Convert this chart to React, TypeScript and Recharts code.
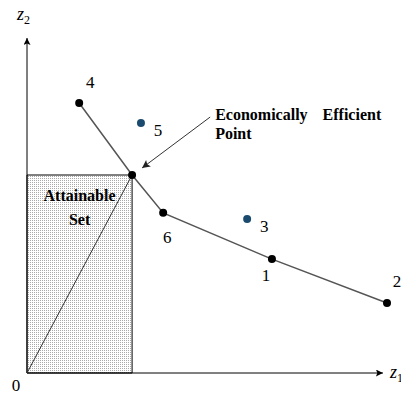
import { ScatterChart, Scatter, XAxis, YAxis, ReferenceArea } from 'recharts'

const FONT = '"Liberation Serif", "Times New Roman", serif'

// efficient frontier, in order: 4 -> E -> 6 -> 1 -> 2
const frontierNames = ['4', 'E', '6', '1', '2']
const frontierX = [14.1, 28.4, 36.8, 66.2, 97.3]
const frontierY = [80.6, 59.1, 47.8, 34.0, 20.9]

// points off the frontier
const otherNames = ['5', '3']
const otherX = [30.8, 59.5]
const otherY = [74.6, 46.0]

const axisMax = { x: 96.2, y: 100 }
const arrowStart = { x: 49.5, y: 76.4 }
const arrowEnd = { x: 31.1, y: 61.2 }

const frontier = frontierNames.map((name, i) => ({ name, x: frontierX[i], y: frontierY[i] }))
const others = otherNames.map((name, i) => ({ name, x: otherX[i], y: otherY[i] }))
const eff = frontier[1]

const origin = { name: '0', x: 0, y: 0 }
const xAxisData = [origin, { name: 'z1', x: axisMax.x, y: 0 }]
const yAxisData = [{ name: '', x: 0, y: 0 }, { name: 'z2', x: 0, y: axisMax.y }]
const rayData = [{ name: '', x: 0, y: 0 }, { ...eff, name: '' }]
const arrowData = [{ name: 'note', ...arrowStart }, { name: '', ...arrowEnd }]

// label offsets (px) from each point
const labelOffset: Record<string, [number, number]> = {
  '4': [11, -15],
  '5': [17, 13],
  '6': [4, 30],
  '3': [17, 13],
  '1': [-6, 22],
  '2': [10, -16],
  '0': [-11, 18],
}

const txt = { fontFamily: FONT }

const dotShape = (color: string) => (p: any) => {
  const off = labelOffset[p.payload?.name]
  return (
    <g>
      <circle cx={p.cx} cy={p.cy} r={4} fill={color} />
      {off && (
        <text x={p.cx + off[0]} y={p.cy + off[1]} textAnchor="middle" fontSize={17} style={txt} fill="#000">
          {p.payload.name}
        </text>
      )}
    </g>
  )
}

const axisShape = (p: any) => {
  const name = p.payload?.name
  if (name === '0') {
    const off = labelOffset['0']
    return (
      <text x={p.cx + off[0]} y={p.cy + off[1]} textAnchor="middle" fontSize={17} style={txt} fill="#000">0</text>
    )
  }
  if (name === 'z1') {
    return (
      <text x={p.cx + 7} y={p.cy + 5} fontSize={18} style={txt} fontStyle="italic" fill="#000">
        z<tspan fontSize={12} fontStyle="normal" dy={4}>1</tspan>
      </text>
    )
  }
  if (name === 'z2') {
    return (
      <text x={p.cx - 10} y={p.cy - 18} fontSize={18} style={txt} fontStyle="italic" fill="#000">
        z<tspan fontSize={12} fontStyle="normal" dy={4}>2</tspan>
      </text>
    )
  }
  return <g />
}

const noteShape = (p: any) => {
  if (p.payload?.name !== 'note') return <g />
  return (
    <text fontSize={16} fontWeight="bold" style={txt} fill="#000">
      <tspan x={p.cx + 5} y={p.cy + 3}>Economically</tspan>
      <tspan dx={11}> Efficient</tspan>
      <tspan x={p.cx + 5} y={p.cy + 22}>Point</tspan>
    </text>
  )
}

const segment = (stroke: string, width: number, marker?: string) => (p: any) => {
  const d = p.points.map((pt: any, i: number) => `${i ? 'L' : 'M'}${pt.x},${pt.y}`).join(' ')
  return (
    <path d={d} fill="none" stroke={stroke} strokeWidth={width} markerEnd={marker ? `url(#${marker})` : undefined} />
  )
}

const attainableLabel = (props: any) => {
  const vb = props.viewBox
  const cx = vb.x + vb.width / 2
  return (
    <text textAnchor="middle" fontSize={16} fontWeight="bold" style={txt} fill="#000">
      <tspan x={cx} y={vb.y + 26}>Attainable</tspan>
      <tspan x={cx} y={vb.y + 50}>Set</tspan>
    </text>
  )
}

export default function App() {
  return (
    <div style={{ position: 'absolute', left: 0, top: 0, width: 401, height: 394, background: '#fff' }}>
      <svg width={0} height={0} style={{ position: 'absolute' }}>
        <defs>
          <pattern id="dots" width={2} height={2} patternUnits="userSpaceOnUse">
            <rect width={2} height={2} fill="#fff" />
            <rect width={1} height={1} fill="#aaa" />
          </pattern>
          <marker id="head" viewBox="0 0 10 10" refX={10} refY={5} markerWidth={8} markerHeight={7}
            markerUnits="userSpaceOnUse" orient="auto">
            <path d="M0,0 L10,5 L0,10 L2,5 z" fill="#000" />
          </marker>
          <marker id="noteHead" viewBox="0 0 10 10" refX={10} refY={5} markerWidth={9} markerHeight={8}
            markerUnits="userSpaceOnUse" orient="auto">
            <path d="M0,0 L10,5 L0,10 L2,5 z" fill="#222" />
          </marker>
        </defs>
      </svg>
      <ScatterChart width={401} height={394} margin={{ top: 38, right: 4, bottom: 21, left: 27 }}>
        <XAxis type="number" dataKey="x" domain={[0, 100]} hide />
        <YAxis type="number" dataKey="y" domain={[0, 100]} hide />
        <ReferenceArea x1={0} x2={eff.x} y1={0} y2={eff.y} fill="url(#dots)" fillOpacity={1}
          stroke="#000" strokeWidth={1} label={attainableLabel} />
        <Scatter data={xAxisData} line={segment('#000', 1, 'head')} shape={axisShape} isAnimationActive={false} />
        <Scatter data={yAxisData} line={segment('#000', 1, 'head')} shape={axisShape} isAnimationActive={false} />
        <Scatter data={rayData} line={segment('#333', 1)} shape={() => <g />} isAnimationActive={false} />
        <Scatter data={frontier} line={segment('#555', 1.5)} shape={dotShape('#000')} isAnimationActive={false} />
        <Scatter data={others} shape={dotShape('#1a4a6e')} isAnimationActive={false} />
        <Scatter data={arrowData} line={segment('#333', 1, 'noteHead')} shape={noteShape} isAnimationActive={false} />
      </ScatterChart>
    </div>
  )
}
